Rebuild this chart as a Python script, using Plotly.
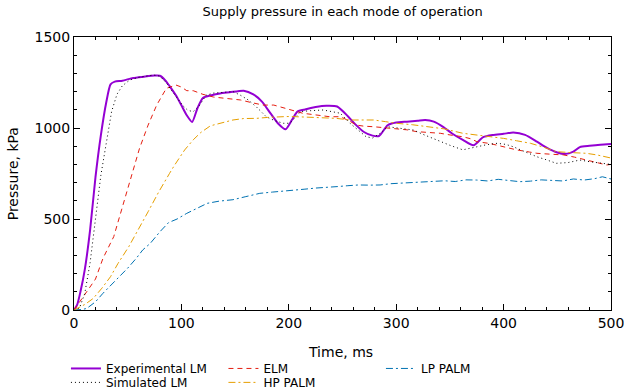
import plotly.graph_objects as go

# ---------------- data ----------------
t_exp = [0, 3, 6, 10, 15, 20, 25, 30, 34, 38, 45, 55, 65, 75, 80, 85, 90, 95, 100, 105,
         110, 115, 120, 128, 136, 145, 158, 167, 175, 183, 190, 197, 203, 208, 215, 225,
         235, 245, 255, 262, 270, 278, 284, 292, 300, 310, 320, 327, 335, 344, 352, 362,
         372, 381, 390, 400, 409, 420, 431, 440, 450, 457, 465, 471, 480, 490, 500]
p_exp = [0, 30, 100, 220, 440, 730, 960, 1140, 1240, 1255, 1260, 1275, 1282, 1288, 1287,
         1262, 1222, 1178, 1125, 1070, 1033, 1110, 1165, 1180, 1190, 1196, 1205, 1185, 1145,
         1080, 1025, 993, 1045, 1090, 1102, 1115, 1122, 1118, 1065, 1020, 978, 958, 956,
         1015, 1030, 1035, 1040, 1044, 1035, 1005, 970, 935, 905, 950, 962, 968, 975, 962,
         925, 892, 865, 857, 870, 895, 902, 908, 912]

t_sim = [0, 5, 10, 15, 20, 25, 30, 35, 40, 45, 52, 60, 67, 74, 80, 86, 91, 96, 101, 106,
         111, 116, 123, 130, 140, 148, 155, 162, 170, 179, 187, 195, 201, 206, 211, 220,
         232, 240, 248, 257, 265, 272, 278, 285, 292, 300, 308, 316, 325, 333, 341, 350,
         362, 368, 375, 384, 394, 402, 409, 420, 431, 440, 449, 460, 471, 480, 492, 500]
p_sim = [0, 10, 90, 260, 500, 740, 915, 1090, 1185, 1232, 1264, 1278, 1285, 1291, 1285,
         1248, 1205, 1165, 1125, 1097, 1090, 1117, 1180, 1192, 1198, 1200, 1180, 1155, 1115,
         1062, 1040, 1026, 1026, 1060, 1090, 1095, 1099, 1090, 1081, 1026, 985, 952, 945,
         970, 1007, 1000, 995, 989, 965, 945, 925, 905, 880, 888, 897, 908, 916, 910, 897,
         870, 842, 825, 806, 810, 824, 815, 806, 800]

t_elm = [0, 5, 13, 20, 27, 37, 46, 52, 61, 69, 77, 86, 95, 100, 105, 111, 120, 130, 139,
         146, 155, 165, 176, 186, 195, 201, 213, 225, 238, 248, 256, 263, 270, 279, 290, 300,
         310, 319, 330, 341, 352, 362, 370, 375, 387, 400, 412, 424, 431, 444, 456, 466,
         477, 487, 496, 500]
p_elm = [0, 40, 110, 170, 284, 403, 586, 700, 888, 1016, 1126, 1218, 1236, 1225, 1205,
         1205, 1185, 1170, 1163, 1160, 1154, 1140, 1126, 1126, 1110, 1099, 1081, 1072, 1062,
         1062, 1040, 1016, 1010, 1007, 1002, 998, 990, 980, 975, 971, 960, 952, 940, 925,
         915, 897, 880, 868, 861, 856, 852, 840, 824, 810, 797, 800]

t_hp = [0, 3, 10, 18, 26, 34, 41, 51, 60, 69, 79, 85, 89, 93, 103, 111, 118, 127, 138, 148,
        158, 170, 180, 189, 198, 207, 220, 232, 244, 257, 268, 279, 290, 300, 315, 332, 345,
        362, 375, 388, 400, 412, 425, 437, 449, 462, 477, 487, 496, 500]
p_hp = [0, 9, 30, 64, 120, 183, 256, 348, 440, 540, 650, 714, 751, 790, 879, 935, 975, 1012,
        1030, 1044, 1052, 1053, 1058, 1062, 1063, 1062, 1058, 1055, 1053, 1044, 1045, 1044,
        1035, 1026, 1018, 1007, 995, 971, 962, 952, 943, 930, 916, 895, 870, 865, 861, 852,
        842, 835]

t_lp = [0, 8, 12, 20, 27, 35, 43, 50, 58, 64, 71, 80, 88, 96, 105, 115, 124, 135, 148, 160,
        173, 185, 195, 205, 215, 225, 235, 245, 255, 265, 275, 285, 295, 305, 315, 325, 335,
        345, 355, 365, 375, 385, 395, 405, 415, 425, 435, 445, 455, 465, 475, 485, 492, 500]
p_lp = [0, 3, 9, 45, 92, 140, 183, 230, 284, 330, 366, 430, 480, 500, 531, 560, 586, 598,
        606, 623, 641, 648, 652, 659, 664, 670, 672, 678, 683, 687, 686, 687, 694, 697, 700,
        704, 705, 710, 706, 715, 714, 709, 718, 712, 705, 708, 715, 712, 709, 720, 714, 722,
        732, 720]

names = ["Experimental LM", "Simulated LM", "ELM", "HP PALM", "LP PALM"]

FONT = "DejaVu Sans"

fig = go.Figure()
# row 1 of legend: Experimental LM, ELM, LP PALM ; row 2: Simulated LM, HP PALM
fig.add_trace(go.Scatter(x=t_exp, y=p_exp, mode="lines", name=names[0], legend="legend",
                         line=dict(color="#9400d3", width=2, shape="spline", smoothing=0.6)))
fig.add_trace(go.Scatter(x=t_elm, y=p_elm, mode="lines", name=names[2], legend="legend",
                         line=dict(color="#e51e10", width=1, dash="5px,4px")))
fig.add_trace(go.Scatter(x=t_lp, y=p_lp, mode="lines", name=names[4], legend="legend",
                         line=dict(color="#0072b2", width=1, dash="7px,3px,2px,3px")))
fig.add_trace(go.Scatter(x=t_sim, y=p_sim, mode="lines", name=names[1], legend="legend2",
                         line=dict(color="black", width=1, dash="1px,3px")))
fig.add_trace(go.Scatter(x=t_hp, y=p_hp, mode="lines", name=names[3], legend="legend2",
                         line=dict(color="#e69f00", width=1, dash="7px,3px,2px,3px")))

axis_common = dict(showline=True, linecolor="black", linewidth=1, mirror="ticks",
                   ticks="inside", ticklen=6, tickcolor="black", showgrid=False,
                   zeroline=False, ticklabeloverflow="allow",
                   tickfont=dict(family=FONT, size=14, color="black"))

fig.update_xaxes(range=[0, 500], dtick=100, tick0=0,
                 minor=dict(ticks="inside", dtick=20, ticklen=3, tickcolor="black", showgrid=False),
                 **axis_common)
fig.update_yaxes(range=[0, 1500], dtick=500, tick0=0,
                 minor=dict(ticks="inside", dtick=100, ticklen=3, tickcolor="black", showgrid=False),
                 **axis_common)

leg_common = dict(orientation="h", yanchor="top", xanchor="left", bgcolor="rgba(0,0,0,0)",
                  font=dict(family=FONT, size=12, color="black"), tracegroupgap=0,
                  itemwidth=30, entrywidth=112.5, entrywidthmode="pixels")
fig.update_layout(
    width=624, height=391,
    margin=dict(l=74, r=13, t=37, b=81, autoexpand=False),
    paper_bgcolor="white", plot_bgcolor="white",
    font=dict(family=FONT, color="black"),
    title=dict(text="Supply pressure in each mode of operation", x=0.549, xanchor="center",
               y=1 - 11 / 391, yanchor="middle", font=dict(family=FONT, size=13, color="black")),
    legend=dict(x=-0.015, y=-0.161, **leg_common),
    legend2=dict(x=-0.015, y=-0.212, **leg_common),
    annotations=[
        dict(text="Pressure, kPa", xref="paper", yref="paper", x=-0.114, y=0.5,
             textangle=-90, showarrow=False, xanchor="center", yanchor="middle",
             font=dict(family=FONT, size=14, color="black")),
        dict(text="Time, ms", xref="paper", yref="paper", x=0.496, y=-0.154,
             showarrow=False, xanchor="center", yanchor="middle",
             font=dict(family=FONT, size=14, color="black")),
    ],
)

fig.write_html("out.html")
